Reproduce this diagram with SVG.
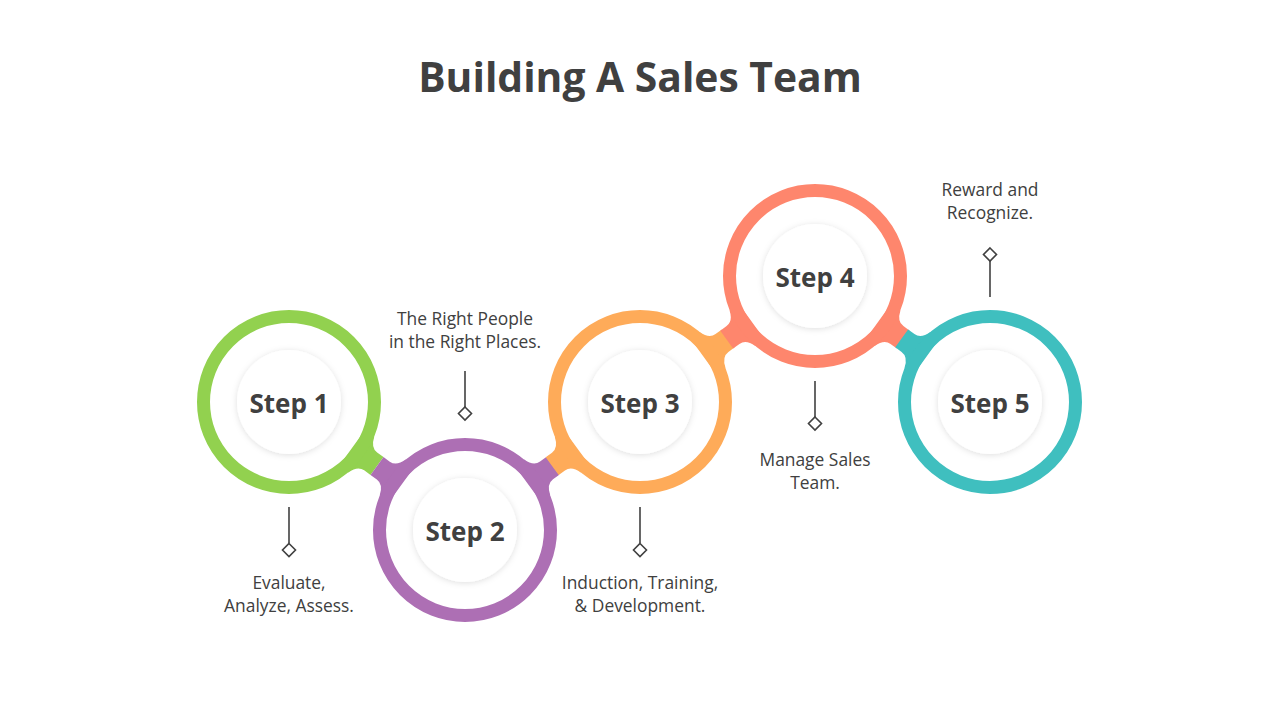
<svg xmlns="http://www.w3.org/2000/svg" width="1280" height="720" viewBox="0 0 1280 720">
<defs>
<style>
.title{font-family:"Open Sans","Noto Sans",sans-serif;font-weight:700;font-size:40.8px;fill:#404040;text-anchor:middle}
.step{font-family:"Open Sans","Noto Sans",sans-serif;font-weight:700;font-size:26px;fill:#404040;text-anchor:middle}
.lbl{font-family:"Open Sans","Noto Sans",sans-serif;font-size:17.4px;fill:#404040;text-anchor:middle}
.ring{fill:none;stroke-width:13}
.inner{fill:#ffffff;filter:url(#sh)}
.pin{stroke:#404040;stroke-width:1.6;fill:none}
.dia{stroke:#404040;stroke-width:1.6;fill:#ffffff}
</style>
<filter id="sh" x="-30%" y="-30%" width="160%" height="160%">
<feDropShadow dx="0" dy="1" stdDeviation="3" flood-color="#000" flood-opacity="0.13"/>
</filter>
<path id="neck" d="M78,-22 L89.4,-22 Q93,-11 101,-11 L108.8,-11 L108.8,11 L101,11 Q93,11 89.4,22 L78,22 Z"/>
</defs>
<rect width="1280" height="720" fill="#ffffff"/>
<text class="title" x="640" y="92">Building A Sales Team</text>

<g id="connectors">
<use href="#neck" fill="#92D14F" transform="translate(289,402) rotate(36.03)"/>
<use href="#neck" fill="#AD6FB4" transform="translate(465,530) rotate(216.03)"/>
<use href="#neck" fill="#AD6FB4" transform="translate(465,530) rotate(-36.18)"/>
<use href="#neck" fill="#FEAB59" transform="translate(640,402) rotate(143.82)"/>
<use href="#neck" fill="#FEAB59" transform="translate(640,402) rotate(-35.75)"/>
<use href="#neck" fill="#FE866D" transform="translate(815,276) rotate(144.25)"/>
<use href="#neck" fill="#FE866D" transform="translate(815,276) rotate(35.75)"/>
<use href="#neck" fill="#3FBFBF" transform="translate(990,402) rotate(215.75)"/>
</g>

<g id="step1">
<circle class="ring" cx="289" cy="402" r="85.5" stroke="#92D14F"/>
<circle class="inner" cx="289" cy="402" r="52"/>
<text class="step" x="289" y="413">Step 1</text>
<line class="pin" x1="289" y1="507" x2="289" y2="543"/>
<path class="dia" d="M289,543.5 L295.5,550 L289,556.5 L282.5,550 Z"/>
<text class="lbl" x="289" y="589">Evaluate,</text>
<text class="lbl" x="289" y="612">Analyze, Assess.</text>
</g>

<g id="step2">
<circle class="ring" cx="465" cy="530" r="85.5" stroke="#AD6FB4"/>
<circle class="inner" cx="465" cy="530" r="52"/>
<text class="step" x="465" y="541">Step 2</text>
<line class="pin" x1="465" y1="371" x2="465" y2="407"/>
<path class="dia" d="M465,407 L471.5,413.5 L465,420 L458.5,413.5 Z"/>
<text class="lbl" x="465" y="325">The Right People</text>
<text class="lbl" x="465" y="348">in the Right Places.</text>
</g>

<g id="step3">
<circle class="ring" cx="640" cy="402" r="85.5" stroke="#FEAB59"/>
<circle class="inner" cx="640" cy="402" r="52"/>
<text class="step" x="640" y="413">Step 3</text>
<line class="pin" x1="640" y1="507" x2="640" y2="543"/>
<path class="dia" d="M640,543.5 L646.5,550 L640,556.5 L633.5,550 Z"/>
<text class="lbl" x="640" y="589">Induction, Training,</text>
<text class="lbl" x="640" y="612">&amp; Development.</text>
</g>

<g id="step4">
<circle class="ring" cx="815" cy="276" r="85.5" stroke="#FE866D"/>
<circle class="inner" cx="815" cy="276" r="52"/>
<text class="step" x="815" y="287">Step 4</text>
<line class="pin" x1="815" y1="381" x2="815" y2="417"/>
<path class="dia" d="M815,417 L821.5,423.5 L815,430 L808.5,423.5 Z"/>
<text class="lbl" x="815" y="466">Manage Sales</text>
<text class="lbl" x="815" y="489">Team.</text>
</g>

<g id="step5">
<circle class="ring" cx="990" cy="402" r="85.5" stroke="#3FBFBF"/>
<circle class="inner" cx="990" cy="402" r="52"/>
<text class="step" x="990" y="413">Step 5</text>
<line class="pin" x1="990" y1="261" x2="990" y2="297"/>
<path class="dia" d="M990,248 L996.5,254.5 L990,261 L983.5,254.5 Z"/>
<text class="lbl" x="990" y="196">Reward and</text>
<text class="lbl" x="990" y="219">Recognize.</text>
</g>
</svg>
